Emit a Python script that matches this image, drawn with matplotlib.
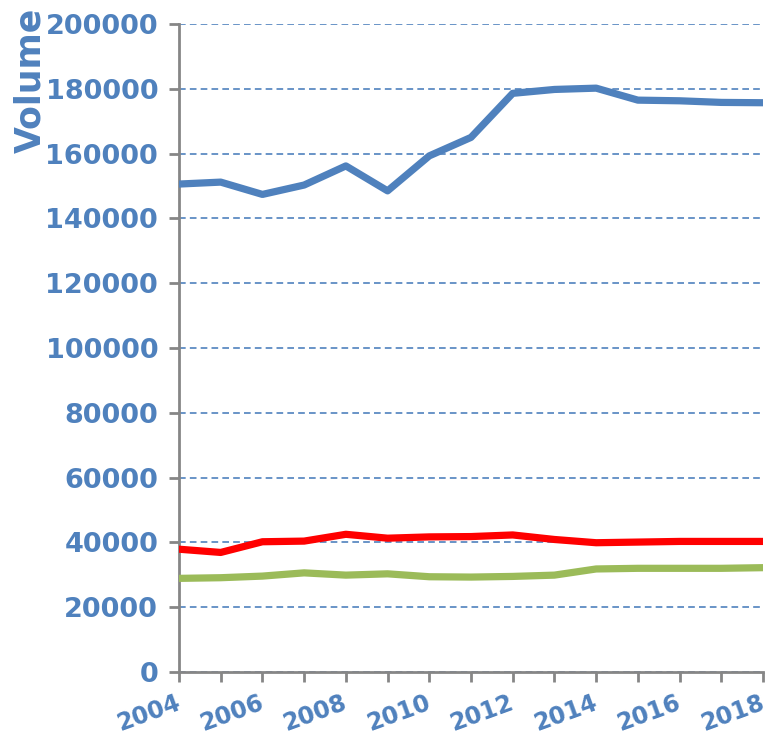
"""Volume by year: three series, Excel-style line chart."""

import matplotlib
matplotlib.use('Agg')
import matplotlib.pyplot as plt
from matplotlib.ticker import MultipleLocator
from matplotlib.transforms import ScaledTranslation

BLUE = '#4f81bd'
RED = '#ff0000'
GREEN = '#9bbb59'
AXIS_GREY = '#868686'

years = list(range(2004, 2019))
blue_volume = [150600, 151200, 147400, 150300, 156200, 148500, 159300, 165000,
               178600, 179800, 180200, 176500, 176300, 175800, 175700]
red_volume = [37900, 36900, 40200, 40400, 42500, 41300, 41700, 41800,
              42300, 40900, 39900, 40100, 40300, 40300, 40300]
green_volume = [28900, 29100, 29600, 30600, 29900, 30300, 29400, 29300,
                29500, 29900, 31800, 32000, 32000, 32000, 32200]

x_ticks = list(range(2004, 2019, 2))
y_ticks = list(range(0, 200001, 20000))

fig = plt.figure(figsize=(7.67, 7.36), dpi=100, facecolor='white')
ax = fig.add_axes([179 / 767, 1 - 672 / 736, (763 - 179) / 767, (672 - 24) / 736])

ax.plot(years, blue_volume, color=BLUE, lw=5.2, zorder=3)
ax.plot(years, red_volume, color=RED, lw=5.2, zorder=3)
ax.plot(years, green_volume, color=GREEN, lw=5.2, zorder=3)

ax.set_xlim(2004, 2018)
ax.set_ylim(0, 200000)
ax.set_yticks(y_ticks)
ax.set_xticks(x_ticks)
ax.xaxis.set_minor_locator(MultipleLocator(1))
ax.yaxis.grid(True, color=BLUE, ls=(0, (4, 2.5)), lw=1.2, zorder=1)

for side in ('top', 'right'):
    ax.spines[side].set_visible(False)
for side in ('left', 'bottom'):
    ax.spines[side].set_color(AXIS_GREY)
    ax.spines[side].set_linewidth(2)

ax.tick_params(axis='both', which='both', direction='out', length=7, width=2,
               color=AXIS_GREY)
ax.tick_params(axis='y', pad=8)
ax.tick_params(axis='x', labelbottom=False)

for lbl in ax.get_yticklabels():
    lbl.set_fontsize(19.5)
    lbl.set_fontweight('bold')
    lbl.set_color(BLUE)

# rotated year labels, right end sitting just under each tick
xlab_tf = ax.get_xaxis_transform() + ScaledTranslation(-4 / 100, -19 / 100,
                                                        fig.dpi_scale_trans)
for yr in x_ticks:
    ax.text(yr, 0, str(yr), transform=xlab_tf, rotation=20,
            rotation_mode='anchor', ha='right', va='top', fontsize=17,
            fontweight='bold', color=BLUE, clip_on=False)

fig.text(30 / 767, 1 - 80 / 736, 'Volume', rotation=90, ha='center', va='center',
         fontsize=25, fontweight='bold', color=BLUE)

fig.savefig('out.png', dpi=100, facecolor='white')
